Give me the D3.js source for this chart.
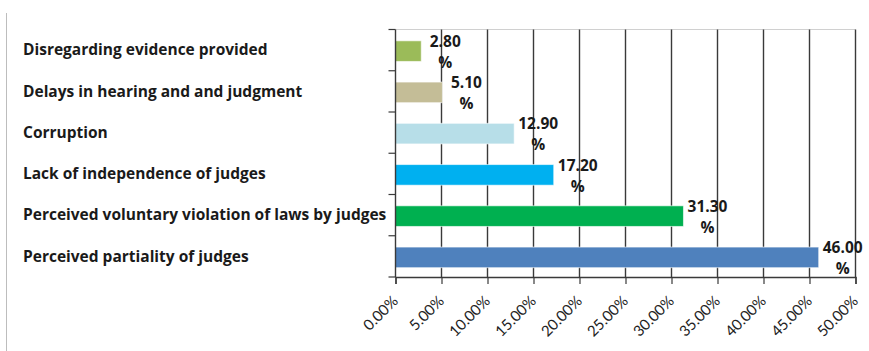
<!DOCTYPE html>
<html>
<head>
<meta charset="utf-8">
<script src="https://cdn.jsdelivr.net/npm/d3@7"></script>
<style>
  html, body { margin: 0; padding: 0; background: #fff; }
  svg { display: block; }
</style>
</head>
<body>
<svg id="chart" width="869" height="351"></svg>
<script>
// Reasons cited, top to bottom
const categories = [
  "Disregarding evidence provided",
  "Delays in hearing and and judgment",
  "Corruption",
  "Lack of independence of judges",
  "Perceived voluntary violation of laws by judges",
  "Perceived partiality of judges"
];
const values = [2.80, 5.10, 12.90, 17.20, 31.30, 46.00];
const barColors = ["#9BBB59", "#C4BD97", "#B7DEE8", "#00B0F0", "#00B050", "#4F81BD"];
const xTicks = [0, 5, 10, 15, 20, 25, 30, 35, 40, 45, 50];

const svg = d3.select("#chart");
const margin = { left: 395.5, right: 13.5, top: 29.5, bottom: 74 };
const W = 869, H = 351;

const x = d3.scaleLinear().domain([0, 50]).range([margin.left, W - margin.right]);
const y = d3.scaleBand().domain(categories).range([margin.top, H - margin.bottom]).paddingInner(0.5).paddingOuter(0.25);

const boldFont = "'Open Sans', sans-serif";
const tickFont = "Lato, 'Open Sans', sans-serif";

// left frame line
svg.append("line").attr("x1", 6.5).attr("x2", 6.5).attr("y1", 13).attr("y2", H)
  .attr("stroke", "#bdbdbd").attr("stroke-width", 1);

// top border of plot area
svg.append("line").attr("x1", x(0)).attr("x2", x(50)).attr("y1", margin.top).attr("y2", margin.top)
  .attr("stroke", "#d0d0d0").attr("stroke-width", 1);

// vertical gridlines
svg.append("g").selectAll("line").data(xTicks.slice(1)).join("line")
  .attr("x1", d => x(d)).attr("x2", d => x(d))
  .attr("y1", margin.top).attr("y2", H - margin.bottom)
  .attr("stroke", "#3a3a3a").attr("stroke-width", 1.4);

// bars
svg.append("g").selectAll("rect").data(categories).join("rect")
  .attr("x", x(0))
  .attr("y", d => y(d) + 1)
  .attr("width", (d, i) => x(values[i]) - x(0))
  .attr("height", y.bandwidth())
  .attr("fill", (d, i) => barColors[i])
  .attr("stroke", "rgba(255,255,255,0.6)").attr("stroke-width", 1);

// y axis: line + ticks at band boundaries
const yBounds = d3.range(categories.length + 1).map(i => margin.top + i * (H - margin.bottom - margin.top) / categories.length);
svg.append("line").attr("x1", x(0)).attr("x2", x(0)).attr("y1", margin.top).attr("y2", H - margin.bottom)
  .attr("stroke", "#3a3a3a").attr("stroke-width", 1.4);
svg.append("g").selectAll("line").data(yBounds).join("line")
  .attr("x1", x(0) - 7).attr("x2", x(0)).attr("y1", d => d).attr("y2", d => d)
  .attr("stroke", "#3a3a3a").attr("stroke-width", 1.2);

// category labels, left-aligned
svg.append("g").selectAll("text").data(categories).join("text")
  .attr("x", 23)
  .attr("y", d => y(d) + y.bandwidth() / 2 + 1)
  .attr("dominant-baseline", "middle")
  .attr("font-family", boldFont).attr("font-weight", "bold").attr("font-size", 15.5)
  .attr("fill", "#1a1a1a")
  .text(d => d);

// x axis
const xAxis = d3.axisBottom(x).tickValues(xTicks).tickSize(7).tickFormat(d => d.toFixed(2) + "%");
const gx = svg.append("g").attr("transform", `translate(0,${H - margin.bottom})`).call(xAxis);
gx.select(".domain").attr("stroke", "#3a3a3a").attr("stroke-width", 1.4);
gx.selectAll(".tick line").attr("stroke", "#3a3a3a").attr("stroke-width", 1.2);
gx.selectAll(".tick text")
  .attr("font-family", tickFont).attr("font-size", 15).attr("fill", "#222")
  .attr("text-anchor", "end")
  .attr("dy", null).attr("y", 0)
  .attr("transform", "translate(3,25) rotate(-45)");

// value labels, wrapped onto two lines
const lab = svg.append("g").selectAll("text").data(categories).join("text")
  .attr("font-family", boldFont).attr("font-weight", "bold").attr("font-size", 15.5)
  .attr("fill", "#1a1a1a")
  .attr("text-anchor", "middle");
lab.append("tspan")
  .attr("x", (d, i) => x(values[i]) + 24)
  .attr("y", d => y(d) + 7)
  .text((d, i) => values[i].toFixed(2));
lab.append("tspan")
  .attr("x", (d, i) => x(values[i]) + 24)
  .attr("y", d => y(d) + 28)
  .text("%");
</script>
</body>
</html>
